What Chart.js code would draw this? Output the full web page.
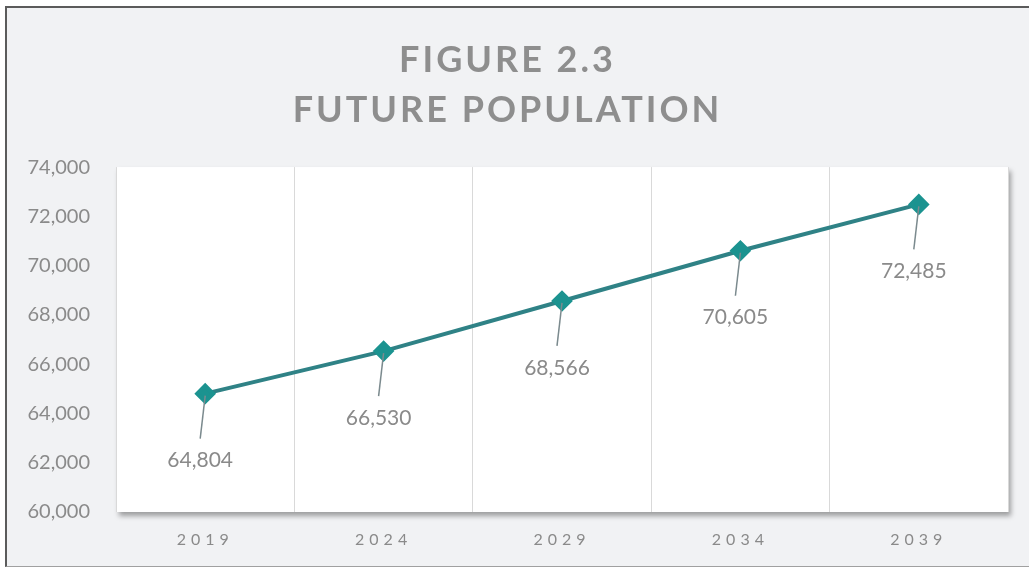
<!DOCTYPE html>
<html>
<head>
<meta charset="utf-8">
<script src="https://cdn.jsdelivr.net/npm/chart.js@4/dist/chart.umd.min.js"></script>
<style>
  body { margin: 0; background: #ffffff; }
  #frame {
    position: absolute; left: 5px; top: 6px;
    width: 1022px; height: 558px;
    background: #f1f2f4;
    border-left: 2px solid #5b5b5b;
    border-top: 2px solid #5b5b5b;
    border-bottom: 1px solid #a0a0a0;
  }
  canvas { display: block; }
</style>
</head>
<body>
<div id="frame"><canvas id="grafico" width="1022" height="558"></canvas></div>
<script>
var anos = ['2019', '2024', '2029', '2034', '2039']
var populacao = [64804, 66530, 68566, 70605, 72485]
var titulo = ['FIGURE 2.3', 'FUTURE POPULATION']
var eixoY = { min: 60000, max: 74000, passo: 2000 }

var corLinha = '#2f8286'
var corPonto = '#1b9390'
var corTexto = '#8a8a8a'

// fundo branco com sombra da area do grafico
var fundoArea = {
    id: 'fundoArea',
    beforeDraw(chart) {
        var a = chart.chartArea
        var ctx = chart.ctx
        ctx.save()
        ctx.shadowColor = 'rgba(0,0,0,0.35)'
        ctx.shadowBlur = 5
        ctx.shadowOffsetX = 3
        ctx.shadowOffsetY = 4
        ctx.fillStyle = '#ffffff'
        ctx.fillRect(a.left, a.top, a.right - a.left, a.bottom - a.top)
        ctx.restore()

        // espacamento de letras no titulo e no eixo x
        if (!chart._espacado) {
            chart._espacado = true
            var xs = chart.scales.x
            var origLabels = xs.drawLabels
            xs.drawLabels = function (area) {
                chart.ctx.save()
                chart.ctx.letterSpacing = '5px'
                origLabels.call(this, area)
                chart.ctx.restore()
            }
            var tb = chart.titleBlock
            var origTitle = tb.draw
            tb.draw = function () {
                chart.ctx.save()
                chart.ctx.letterSpacing = '3px'
                origTitle.call(this)
                chart.ctx.restore()
            }
        }
    }
}

// rotulos com linha guia abaixo de cada ponto
var rotulos = {
    id: 'rotulos',
    afterDatasetsDraw(chart) {
        var ctx = chart.ctx
        var meta = chart.getDatasetMeta(0)
        ctx.save()
        meta.data.forEach((p, i) => {
            ctx.strokeStyle = '#7b8a8e'
            ctx.lineWidth = 1.5
            ctx.beginPath()
            ctx.moveTo(p.x, p.y + 2)
            ctx.lineTo(p.x - 5, p.y + 45)
            ctx.stroke()
            ctx.fillStyle = corTexto
            ctx.font = '21px Lato'
            ctx.textAlign = 'center'
            ctx.textBaseline = 'middle'
            ctx.fillText(populacao[i].toLocaleString('en-US'), p.x - 5, p.y + 67)
        })
        ctx.restore()
    }
}

new Chart(document.querySelector('#grafico'), {
    type: 'line',
    data: {
        labels: anos,
        datasets: [{
            label: 'Population',
            data: populacao,
            borderColor: corLinha,
            borderWidth: 4,
            pointStyle: 'rectRot',
            pointRadius: 8,
            pointBackgroundColor: corPonto,
            pointBorderColor: corPonto,
            tension: 0
        }]
    },
    options: {
        responsive: false,
        animation: false,
        layout: { padding: { left: 0, right: 21, top: 0, bottom: 0 } },
        plugins: {
            legend: { display: false },
            tooltip: { enabled: false },
            title: {
                display: true,
                text: titulo,
                color: '#8e8e8e',
                font: { family: 'Lato', size: 36, weight: 'bold', lineHeight: 1.39 },
                padding: { top: 27, bottom: 32 }
            }
        },
        scales: {
            x: {
                offset: true,
                grid: { offset: true, color: '#d9d9d9', drawTicks: false },
                border: { display: false },
                ticks: { color: corTexto, font: { family: 'Lato', size: 16 }, padding: 18 },
                afterFit(scale) { scale.height = 54 }
            },
            y: {
                min: eixoY.min,
                max: eixoY.max,
                grid: { display: false },
                border: { display: false },
                ticks: { stepSize: eixoY.passo, color: corTexto, font: { family: 'Lato', size: 20 }, padding: 18 },
                afterFit(scale) { scale.width = 109 }
            }
        }
    },
    plugins: [fundoArea, rotulos]
})
</script>
</body>
</html>
